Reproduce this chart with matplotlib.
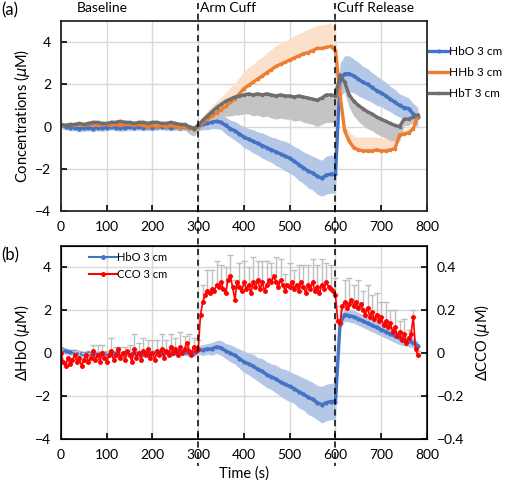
import numpy as np
import matplotlib.pyplot as plt
import matplotlib
from matplotlib.lines import Line2D

matplotlib.rcParams['font.family'] = ['Lato', 'DejaVu Sans']
matplotlib.rcParams['mathtext.fontset'] = 'dejavusans'

# time axis (s), 10 s steps for haemoglobin traces, 5 s steps for CCO
t = np.arange(0, 790, 10)
t_cco = np.arange(0, 785, 5)

# ---- panel (a) ----
hbo_a = [0.05, 0.0, -0.05, -0.05, -0.1, -0.08, -0.05, -0.1, -0.05, -0.08,
         -0.05, -0.02, -0.05, -0.08, -0.05, -0.03, -0.05, -0.02, -0.05, -0.03,
         -0.05, -0.02, 0.0, -0.03, -0.05, -0.02, -0.05, -0.03, -0.05, -0.1,
         0.0, 0.1, 0.15, 0.2, 0.25, 0.2, 0.05, -0.1, -0.2, -0.35,
         -0.5, -0.6, -0.7, -0.8, -0.9, -1.0, -1.1, -1.2, -1.3, -1.4,
         -1.5, -1.65, -1.8, -1.95, -2.1, -2.2, -2.35, -2.45, -2.3, -2.25, -2.25,
         2.2, 2.5, 2.5, 2.4, 2.25, 2.1, 2.0, 1.85, 1.7, 1.6,
         1.45, 1.3, 1.15, 1.0, 0.9, 0.85, 0.6, 0.45]
hbo_a_err = [0.15] * 30 + [0.2, 0.25, 0.3, 0.3, 0.35, 0.35, 0.4, 0.4, 0.45, 0.45,
             0.5, 0.5, 0.55, 0.55, 0.6, 0.6, 0.6, 0.65, 0.65, 0.7,
             0.7, 0.7, 0.75, 0.75, 0.8, 0.8, 0.85, 0.85, 0.9, 0.9, 0.9,
             0.8, 0.85, 0.85, 0.8, 0.8, 0.75, 0.75, 0.7, 0.7, 0.65,
             0.65, 0.6, 0.6, 0.55, 0.55, 0.5, 0.5, 0.45]

hhb_a = [0.05, 0.05, 0.1, 0.05, 0.1, 0.05, 0.1, 0.1, 0.05, 0.1,
         0.1, 0.05, 0.1, 0.05, 0.1, 0.1, 0.05, 0.1, 0.05, 0.0,
         0.05, 0.0, 0.05, 0.0, 0.05, 0.0, -0.05, 0.0, -0.05, -0.1,
         0.0, 0.2, 0.35, 0.5, 0.65, 0.8, 0.95, 1.15, 1.3, 1.55,
         1.8, 1.95, 2.1, 2.25, 2.4, 2.55, 2.7, 2.85, 2.95, 3.05,
         3.15, 3.25, 3.35, 3.45, 3.5, 3.6, 3.7, 3.7, 3.75, 3.8, 3.6,
         1.5, -0.2, -0.7, -1.0, -1.1, -1.15, -1.15, -1.15, -1.1, -1.15,
         -1.15, -1.1, -1.05, -0.4, -0.35, -0.3, -0.1, 0.5]
hhb_a_err = [0.1] * 30 + [0.1, 0.3, 0.4, 0.5, 0.55, 0.6, 0.65, 0.7, 0.75, 0.8,
             0.8, 0.85, 0.85, 0.9, 0.9, 0.95, 0.95, 1.0, 1.0, 1.0,
             1.0, 1.05, 1.05, 1.05, 1.1, 1.1, 1.1, 1.1, 1.1, 1.1, 1.0,
             0.3, 0.3, 0.45, 0.55, 0.6, 0.65, 0.65, 0.65, 0.6, 0.6,
             0.6, 0.6, 0.55, 0.2, 0.2, 0.2, 0.15, 0.1]

hbt_a = [0.1, 0.05, 0.1, 0.1, 0.15, 0.1, 0.15, 0.2, 0.2, 0.15,
         0.15, 0.2, 0.2, 0.25, 0.2, 0.2, 0.15, 0.2, 0.2, 0.15,
         0.2, 0.2, 0.15, 0.15, 0.2, 0.15, 0.1, 0.1, 0.0, -0.1,
         0.05, 0.3, 0.5, 0.7, 0.9, 1.05, 1.2, 1.3, 1.4, 1.45,
         1.5, 1.55, 1.5, 1.55, 1.5, 1.55, 1.5, 1.45, 1.5, 1.45,
         1.45, 1.4, 1.45, 1.4, 1.35, 1.3, 1.25, 1.35, 1.5, 1.5, 1.45,
         2.45, 2.1, 1.5, 1.2, 1.0, 0.85, 0.7, 0.6, 0.45, 0.35,
         0.25, 0.15, 0.05, 0.0, 0.35, 0.35, 0.45, 0.55]
hbt_a_err = [0.15] * 27 + [0.25, 0.35, 0.35,
             0.3, 0.3, 0.4, 0.5, 0.6, 0.65, 0.7, 0.8, 0.85, 0.9,
             0.9, 0.95, 1.0, 1.0, 1.05, 1.05, 1.1, 1.1, 1.1, 1.1,
             1.1, 1.15, 1.15, 1.2, 1.2, 1.2, 1.25, 1.25, 1.3, 1.3, 1.3,
             0.4, 0.5, 0.6, 0.7, 0.75, 0.8, 0.8, 0.8, 0.8, 0.8,
             0.8, 0.8, 0.75, 0.7, 0.3, 0.3, 0.25, 0.2]

# ---- panel (b) ----
hbo_b = [0.2, 0.1, 0.05, 0.05, 0.0, -0.05, 0.0, -0.05, -0.05, 0.0,
         -0.05, -0.05, 0.0, -0.05, 0.0, -0.05, 0.0, 0.0, -0.05, 0.0,
         0.0, 0.05, 0.0, 0.05, 0.0, 0.05, 0.1, 0.05, 0.0, 0.0,
         0.15, 0.15, 0.2, 0.2, 0.3, 0.25, 0.1, 0.0, -0.1, -0.25,
         -0.4, -0.5, -0.6, -0.75, -0.85, -1.0, -1.1, -1.2, -1.35, -1.45,
         -1.55, -1.65, -1.8, -1.9, -2.05, -2.15, -2.3, -2.4, -2.3, -2.25, -2.25,
         1.4, 1.8, 1.75, 1.7, 1.6, 1.5, 1.4, 1.3, 1.2, 1.1,
         1.0, 0.9, 0.8, 0.7, 0.6, 0.55, 0.5, 0.35]
hbo_b_err = [0.15] * 30 + [0.2, 0.25, 0.25, 0.3, 0.3, 0.35, 0.35, 0.4, 0.4, 0.45,
             0.5, 0.5, 0.55, 0.55, 0.6, 0.6, 0.6, 0.65, 0.65, 0.7,
             0.7, 0.7, 0.75, 0.75, 0.8, 0.8, 0.8, 0.85, 0.85, 0.85, 0.85,
             0.3, 0.3, 0.3, 0.3, 0.3, 0.3, 0.3, 0.3, 0.3, 0.3,
             0.3, 0.3, 0.3, 0.3, 0.25, 0.25, 0.25, 0.2]

cco = [0.0, -0.04, -0.06, -0.02, -0.05, -0.03, -0.01, -0.04, -0.02, -0.06,
       -0.03, -0.01, -0.04, -0.02, 0.01, -0.03, -0.01, -0.04, 0.0, -0.02,
       -0.04, -0.01, 0.01, -0.03, -0.01, 0.02, -0.02, 0.0, -0.03, 0.01,
       -0.01, -0.04, 0.02, -0.02, 0.0, -0.03, 0.01, -0.01, 0.02, -0.02,
       0.0, -0.03, 0.01, -0.01, 0.02, -0.02, 0.01, -0.01, 0.03, 0.0,
       0.02, -0.01, 0.03, 0.0, 0.02, 0.05, 0.01, -0.01, 0.03, 0.01,
       0.02, 0.18, 0.24, 0.27, 0.29, 0.28, 0.30, 0.29, 0.32, 0.31,
       0.33, 0.30, 0.28, 0.34, 0.36, 0.31, 0.25, 0.33, 0.31, 0.29,
       0.33, 0.30, 0.32, 0.28, 0.33, 0.31, 0.34, 0.30, 0.33, 0.29,
       0.32, 0.34, 0.33, 0.36, 0.33, 0.31, 0.34, 0.32, 0.29, 0.32,
       0.31, 0.33, 0.30, 0.32, 0.29, 0.33, 0.31, 0.28, 0.32, 0.30,
       0.33, 0.29, 0.31, 0.28, 0.32, 0.30, 0.33, 0.31, 0.30, 0.29,
       0.27, 0.15, 0.14, 0.22, 0.24, 0.21, 0.23, 0.25, 0.22, 0.24,
       0.21, 0.23, 0.20, 0.18, 0.21, 0.17, 0.19, 0.16, 0.18, 0.15,
       0.17, 0.13, 0.15, 0.12, 0.14, 0.10, 0.12, 0.08, 0.10, 0.06,
       0.09, 0.05, 0.07, 0.09, 0.17, 0.02, -0.01]
# upward error of CCO, every 10 s
cco_err = [0.02, 0.02, 0.03, 0.02, 0.03, 0.03, 0.04, 0.03, 0.05, 0.04,
           0.05, 0.06, 0.04, 0.05, 0.06, 0.05, 0.07, 0.05, 0.06, 0.04,
           0.06, 0.05, 0.07, 0.05, 0.06, 0.05, 0.07, 0.06, 0.08, 0.04,
           0.04, 0.08, 0.10, 0.09, 0.11, 0.08, 0.12, 0.10, 0.09, 0.11,
           0.10, 0.08, 0.12, 0.09, 0.10, 0.11, 0.09, 0.12, 0.10, 0.08,
           0.11, 0.09, 0.12, 0.10, 0.09, 0.11, 0.10, 0.12, 0.09, 0.11, 0.08,
           0.08, 0.10, 0.12, 0.10, 0.13, 0.09, 0.11, 0.08, 0.10, 0.07,
           0.09, 0.06, 0.08, 0.05, 0.07, 0.04, 0.03, 0.02]

phases = [(35, 'Baseline'), (303, 'Arm Cuff'), (603, 'Cuff Release')]

BLUE, ORANGE, GREY, RED = '#4472C4', '#ED7D31', '#6E6E6E', '#FF0000'

fig = plt.figure(figsize=(5.1, 4.9), dpi=100)
ax1 = fig.add_axes([0.1196, 0.5694, 0.7176, 0.3878])
ax2 = fig.add_axes([0.1196, 0.104, 0.7176, 0.394])
ax3 = ax2.twinx()


def style(ax):
    ax.set_xlim(0, 800)
    ax.set_ylim(-4, 5)
    ax.set_xticks(range(0, 801, 100))
    ax.set_yticks(range(-4, 5, 2))
    ax.set_yticklabels(['\u22124', '\u22122', '0', '2', '4'])
    ax.grid(color='#D9D9D9', linewidth=1)
    ax.set_axisbelow(True)
    ax.tick_params(direction='in', labelsize=10, length=4, width=1.2, pad=7)
    for s in ax.spines.values():
        s.set_linewidth(1.3)
        s.set_color('#262626')


for ax in (ax1, ax2):
    style(ax)

# panel (a)
hbo_a, hhb_a, hbt_a = map(np.array, (hbo_a, hhb_a, hbt_a))
ax1.fill_between(t, hbo_a - np.array(hbo_a_err), hbo_a + np.array(hbo_a_err),
                 color='#B4C7E7', lw=0)
ax1.fill_between(t, hhb_a, hhb_a + np.array(hhb_a_err), color='#FBE0CC', lw=0)
ax1.fill_between(t, hbt_a - np.array(hbt_a_err), hbt_a, color='#C4C4C4', lw=0)
ax1.plot(t, hbo_a, color=BLUE, marker='o', ms=2, lw=2.4, label='HbO 3 cm')
ax1.plot(t, hhb_a, color=ORANGE, marker='s', ms=2, lw=2.4, label='HHb 3 cm')
ax1.plot(t, hbt_a, color=GREY, marker='s', ms=2, lw=2.4, label='HbT 3 cm')
ax1.set_ylabel('Concentrations ($\\mu$M)', fontsize=10.5, labelpad=2)
ax1.legend(loc='upper left', bbox_to_anchor=(0.99, 0.9), frameon=False,
           fontsize=8.5, handlelength=1.6, handletextpad=0.1, labelspacing=0.85,
           borderaxespad=0.3, borderpad=0.2)

# panel (b)
hbo_b = np.array(hbo_b)
ax2.fill_between(t, hbo_b - np.array(hbo_b_err), hbo_b + np.array(hbo_b_err),
                 color='#B4C7E7', lw=0)
ax2.plot(t, hbo_b, color=BLUE, marker='o', ms=2, lw=2.4)
ax2.set_ylabel('\u0394HbO ($\\mu$M)', fontsize=10.5, labelpad=2)
ax2.set_xlabel('Time (s)', fontsize=10.5, labelpad=4)

ax3.set_ylim(-0.4, 0.5)
ax3.set_yticks([-0.4, -0.2, 0, 0.2, 0.4])
ax3.set_yticklabels(['\u22120.4', '\u22120.2', '0', '0.2', '0.4'])
ax3.tick_params(direction='in', labelsize=10, length=4, width=1.2, pad=7)
cco = np.array(cco)
ax3.errorbar(t_cco[::2], cco[::2], yerr=[np.zeros(len(cco_err)), cco_err],
             fmt='none', ecolor='#BFBFBF', elinewidth=1, capsize=2)
ax3.plot(t_cco, cco, color=RED, marker='o', ms=2.5, lw=1.2)
ax3.set_ylabel('\u0394CCO ($\\mu$M)', fontsize=10.5, labelpad=6)

handles = [Line2D([], [], color=BLUE, marker='o', ms=2.5, lw=1.5),
           Line2D([], [], color=RED, marker='o', ms=2.5, lw=1.5)]
ax2.legend(handles, ['HbO 3 cm', 'CCO 3 cm'], loc='upper left',
           bbox_to_anchor=(0.05, 1.02), frameon=False, fontsize=8,
           handlelength=2.5, handletextpad=0.0, labelspacing=0.5)

# phase labels and dashed phase boundaries
for x0, name in phases:
    ax1.text(x0, 5.62, name, fontsize=10, ha='left', va='center')
for x0 in (300, 600):
    xf = fig.transFigure.inverted().transform(ax1.transData.transform((x0, 0)))[0]
    fig.add_artist(Line2D([xf, xf], [0.993, 0.05], transform=fig.transFigure,
                          color='black', lw=1.1, ls=(0, (4, 3))))

fig.text(0.003, 0.978, '(a)', fontsize=12, va='center')
fig.text(0.003, 0.478, '(b)', fontsize=12, va='center')

plt.savefig('out.png', dpi=100)
plt.close()
